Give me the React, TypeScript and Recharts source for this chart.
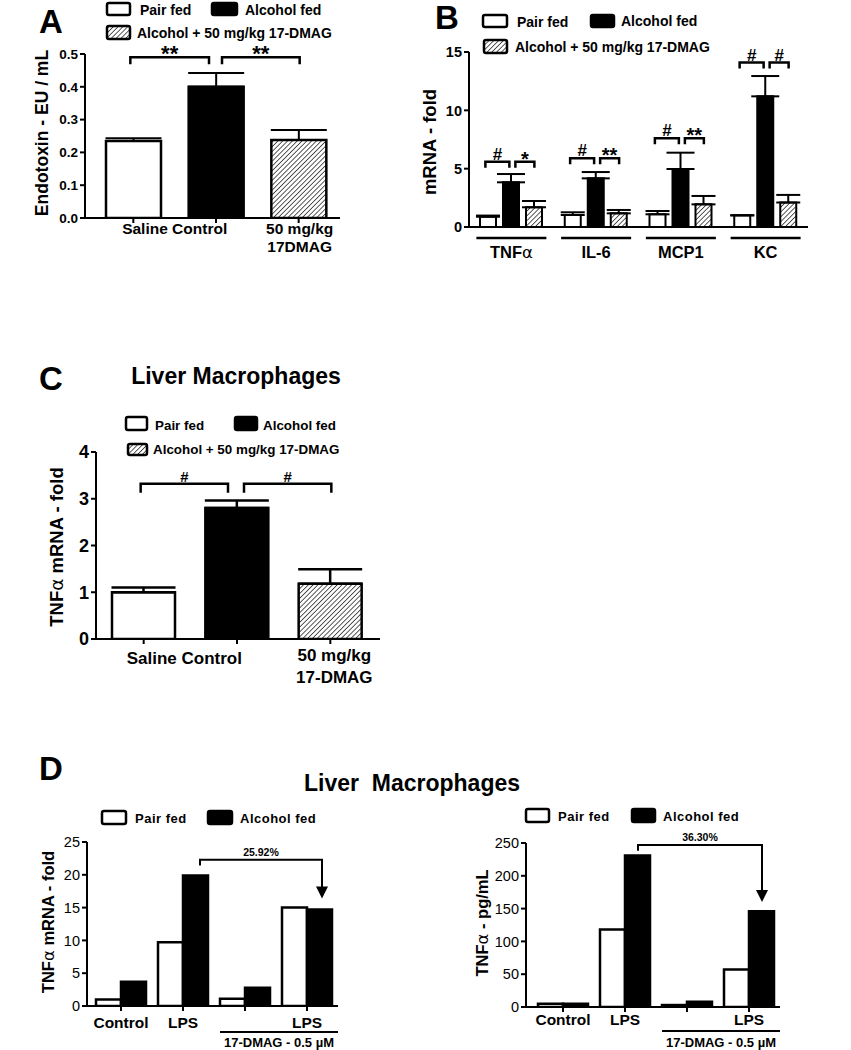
import React from 'react'
import { BarChart, Bar, Cell, XAxis, YAxis, ErrorBar } from 'recharts'

const FONT = '"Liberation Sans", Arial, Helvetica, sans-serif'

// ── Panel A: serum endotoxin ────────────────────────────────────────────────
const endoGroups = ['Pair fed', 'Alcohol fed', 'Alcohol + 17-DMAG']
const endotoxin = [0.235, 0.4, 0.238]
const endotoxinSem = [0.008, 0.042, 0.03]
const endoTicks = [0, 0.1, 0.2, 0.3, 0.4, 0.5]

// ── Panel B: liver cytokine mRNA ────────────────────────────────────────────
const cytokines = ['TNFα', 'IL-6', 'MCP1', 'KC']
const cytoPair = [0.88, 1.03, 1.09, 1.0]
const cytoPairSem = [0.1, 0.23, 0.28, 0]
const cytoAlcohol = [3.83, 4.17, 4.97, 11.2]
const cytoAlcoholSem = [0.71, 0.54, 1.4, 1.74]
const cytoDmag = [1.69, 1.17, 1.94, 2.1]
const cytoDmagSem = [0.54, 0.29, 0.72, 0.65]
const cytoTicks = [0, 5, 10, 15]
const cytoMarks = [['#', '*'], ['#', '**'], ['#', '**'], ['#', '#']]
const cytoBracketAt = [5.6, 5.9, 7.6, 14.1]

// ── Panel C: macrophage TNFα mRNA ───────────────────────────────────────────
const macroGroups = ['Pair fed', 'Alcohol fed', 'Alcohol + 17-DMAG']
const macroTnf = [1.0, 2.8, 1.18]
const macroTnfSem = [0.1, 0.16, 0.31]
const macroTicks = [0, 1, 2, 3, 4]

// ── Panel D: macrophages ex vivo ────────────────────────────────────────────
const stimGroups = ['Control', 'LPS', 'DMAG', 'DMAG + LPS']
const stimLabels = ['Control', 'LPS', '', 'LPS']
const mrnaPair = [1.0, 9.7, 1.1, 15.0]
const mrnaAlcohol = [3.7, 19.9, 2.8, 14.7]
const mrnaTicks = [0, 5, 10, 15, 20, 25]
const protPair = [5, 118, 3, 57]
const protAlcohol = [5, 231, 8, 146]
const protTicks = [0, 50, 100, 150, 200, 250]

const FILLS = ['#fff', '#000', 'url(#hatch)']

type Geo = { x: number; y: number; w: number; h: number; l: number; r: number; t: number; b: number; padL: number; padR: number; max: number; n: number }

const geoA: Geo = { x: 0, y: 0, w: 360, h: 270, l: 85, r: 340, t: 54, b: 218, padL: 7, padR: 0, max: 0.5, n: 3 }
const geoB: Geo = { x: 420, y: 0, w: 420, h: 270, l: 469, r: 808, t: 52, b: 227, padL: 0, padR: 0, max: 15, n: 4 }
const geoC: Geo = { x: 0, y: 330, w: 400, h: 360, l: 96, r: 380, t: 452, b: 639, padL: 1, padR: 3, max: 4, n: 3 }
const geoDL: Geo = { x: 0, y: 790, w: 360, h: 260, l: 87, r: 338, t: 842, b: 1006, padL: 3, padR: 0, max: 25, n: 4 }
const geoDR: Geo = { x: 420, y: 790, w: 420, h: 260, l: 526, r: 780, t: 843, b: 1007, padL: 6, padR: 0, max: 250, n: 4 }

const band = (g: Geo) => (g.r - g.padR - g.l - g.padL) / g.n
const cx = (g: Geo, i: number) => g.l + g.padL + band(g) * (i + 0.5)
const cy = (g: Geo, v: number) => g.b - (v / g.max) * (g.b - g.t)

const txt = (size: number, weight = 700) => ({ fontFamily: FONT, fontSize: size, fontWeight: weight, fill: '#000' })

const rowsA = endoGroups.map((name, i) => ({ name, value: endotoxin[i], err: [0, endotoxinSem[i]] }))
const rowsB = cytokines.map((name, i) => ({
  name,
  pair: cytoPair[i], pairErr: [0, cytoPairSem[i]],
  alcohol: cytoAlcohol[i], alcoholErr: [0, cytoAlcoholSem[i]],
  dmag: cytoDmag[i], dmagErr: [0, cytoDmagSem[i]],
}))
const rowsC = macroGroups.map((name, i) => ({ name, value: macroTnf[i], err: [0, macroTnfSem[i]] }))
const rowsDL = stimGroups.map((name, i) => ({ name, pair: mrnaPair[i], alcohol: mrnaAlcohol[i] }))
const rowsDR = stimGroups.map((name, i) => ({ name, pair: protPair[i], alcohol: protAlcohol[i] }))

const yTick = (size: number, weight: number, fmt?: (v: number) => string) => (p: any) => (
  <text x={p.x} y={p.y} dy="0.36em" textAnchor="end" {...txt(size, weight)}>
    {fmt ? fmt(p.payload.value) : p.payload.value}
  </text>
)

function Frame({ g, data, ticks, yTickEl, xTick, xTickLine = true, barSize, barGap = 0, children }: any) {
  return (
    <div style={{ position: 'absolute', left: g.x, top: g.y }}>
      <BarChart
        width={g.w} height={g.h} data={data} barSize={barSize} barGap={barGap}
        margin={{ top: g.t - g.y, right: g.x + g.w - g.r, bottom: 0, left: 0 }}
      >
        <XAxis
          dataKey="name" height={g.y + g.h - g.b} padding={{ left: g.padL, right: g.padR }} interval={0}
          axisLine={{ stroke: '#000', strokeWidth: 2 }}
          tickLine={xTickLine ? { stroke: '#000', strokeWidth: 2 } : false} tickSize={5} tick={xTick}
        />
        <YAxis
          width={g.l - g.x} domain={[0, g.max]} ticks={ticks} interval={0} allowDataOverflow
          axisLine={{ stroke: '#000', strokeWidth: 2 }} tickLine={{ stroke: '#000', strokeWidth: 2 }} tickSize={5}
          tick={yTickEl}
        />
        {children}
      </BarChart>
    </div>
  )
}

// x tick renderers
const tickA = (p: any) => {
  const yb = geoA.b - geoA.y
  if (p.index === 0) return <text x={p.x + band(geoA) / 2} y={yb + 16} textAnchor="middle" {...txt(15.5)}>Saline Control</text>
  if (p.index === 2) return (
    <text textAnchor="middle" {...txt(15.5)}>
      <tspan x={p.x + 1} y={yb + 16}>50 mg/kg</tspan>
      <tspan x={p.x + 1} y={yb + 34}>17DMAG</tspan>
    </text>
  )
  return <g />
}

const tickB = (p: any) => {
  const yb = geoB.b - geoB.y
  const name = cytokines[p.index]
  return (
    <g>
      <line x1={p.x - 35} x2={p.x + 35} y1={yb + 11} y2={yb + 11} stroke="#000" strokeWidth={2.5} />
      <text x={p.x} y={yb + 31} textAnchor="middle" {...txt(16.5)}>
        {name.endsWith('α') ? (
          <>
            {name.slice(0, -1)}
            <tspan fontWeight={400} fontFamily="DejaVu Sans">α</tspan>
          </>
        ) : name}
      </text>
    </g>
  )
}

const tickC = (p: any) => {
  const yb = geoC.b - geoC.y
  if (p.index === 0) return <text x={p.x + band(geoC) / 2 - 6} y={yb + 25} textAnchor="middle" {...txt(17)}>Saline Control</text>
  if (p.index === 2) return (
    <text textAnchor="middle" {...txt(17)}>
      <tspan x={p.x + 4} y={yb + 22}>50 mg/kg</tspan>
      <tspan x={p.x + 4} y={yb + 44}>17-DMAG</tspan>
    </text>
  )
  return <g />
}

const tickD = (g: Geo, lab: number, line: number, sub: number) => (p: any) => {
  const yb = g.b - g.y
  const bw = band(g)
  return (
    <g>
      <text x={p.x} y={yb + lab} textAnchor="middle" {...txt(15.5)}>{stimLabels[p.index]}</text>
      {p.index === 3 && (
        <>
          <line x1={p.x - 1.5 * bw + 6} x2={p.x + bw / 2} y1={yb + line} y2={yb + line} stroke="#000" strokeWidth={2} />
          <text x={p.x - bw / 2 + 3} y={yb + sub} textAnchor="middle" {...txt(13)}>17-DMAG - 0.5 µM</text>
        </>
      )}
    </g>
  )
}

// overlay helpers
function Bracket({ x1, x2, y, drop, mark, size, markDy = -2 }: any) {
  return (
    <g>
      <path d={`M${x1},${y + drop}V${y}H${x2}V${y + drop}`} fill="none" stroke="#000" strokeWidth={2.5} />
      <text x={(x1 + x2) / 2} y={y + markDy} textAnchor="middle" {...txt(size)}>{mark}</text>
    </g>
  )
}

function Key({ x, y, w, h, fill, label, tx, ty, size, ls = 0 }: any) {
  return (
    <g>
      <rect x={x} y={y} width={w} height={h} rx={2} fill={fill} stroke="#000" strokeWidth={2.5} />
      <text x={tx} y={ty} letterSpacing={ls} {...txt(size)}>{label}</text>
    </g>
  )
}

function YLabel({ x, y, size, children }: any) {
  return (
    <text transform={`translate(${x},${y}) rotate(-90)`} textAnchor="middle" {...txt(size)}>{children}</text>
  )
}

const alpha = <tspan fontWeight={400} fontFamily="DejaVu Sans">α</tspan>

function Arrow({ x1, x2, yTop, yStart, yTip, label, labelY }: any) {
  return (
    <g>
      <path d={`M${x1},${yStart}V${yTop}H${x2}V${yTip - 10}`} fill="none" stroke="#000" strokeWidth={2} />
      <polygon points={`${x2 - 6},${yTip - 12} ${x2 + 6},${yTip - 12} ${x2},${yTip}`} fill="#000" />
      <text x={(x1 + x2) / 2} y={labelY} textAnchor="middle" {...txt(10.5)}>{label}</text>
    </g>
  )
}

function Overlay() {
  const a0 = cx(geoA, 0), a1 = cx(geoA, 1), a2 = cx(geoA, 2)
  const c0 = cx(geoC, 0), c1 = cx(geoC, 1), c2 = cx(geoC, 2)
  const yA = cy(geoA, 0.49)
  const yC = cy(geoC, 3.32)
  return (
    <svg width={851} height={1050} style={{ position: 'absolute', left: 0, top: 0, pointerEvents: 'none', zIndex: 2 }}>
      {/* panel letters and titles */}
      <text x={39} y={33} {...txt(33)}>A</text>
      <text x={435} y={29} {...txt(33)}>B</text>
      <text x={39} y={390} {...txt(33)}>C</text>
      <text x={39} y={780} {...txt(33)}>D</text>
      <text x={236} y={384} textAnchor="middle" {...txt(23)}>Liver Macrophages</text>
      <text x={412} y={791} textAnchor="middle" {...txt(23)}>Liver{'\u00a0 '}Macrophages</text>

      {/* legends */}
      <Key x={107} y={3} w={23} h={12} fill="#fff" label="Pair fed" tx={140} ty={15} size={14} />
      <Key x={212} y={3} w={25} h={12} fill="#000" label="Alcohol fed" tx={245} ty={15} size={14} />
      <Key x={107} y={26} w={23} h={13} fill="url(#hatch)" label="Alcohol + 50 mg/kg 17-DMAG" tx={137} ty={38} size={14} />

      <Key x={483} y={15} w={24} h={12} fill="#fff" label="Pair fed" tx={517} ty={27} size={14} />
      <Key x={591} y={15} w={23} h={12} fill="#000" label="Alcohol fed" tx={621} ty={26} size={14} />
      <Key x={484} y={40} w={23} h={13} fill="url(#hatch)" label="Alcohol + 50 mg/kg 17-DMAG" tx={515} ty={52} size={14} />

      <Key x={126} y={417} w={21} h={13} fill="#fff" label="Pair fed" tx={155} ty={430} size={13.4} />
      <Key x={235} y={417} w={22} h={13} fill="#000" label="Alcohol fed" tx={263} ty={430} size={13.4} />
      <Key x={128} y={444} w={19} h={11} fill="url(#hatch)" label="Alcohol + 50 mg/kg 17-DMAG" tx={153} ty={454} size={13.4} />

      <Key x={102} y={811} w={24} h={13} fill="#fff" label="Pair fed" tx={135} ty={823} size={13} ls={0.5} />
      <Key x={208} y={811} w={24} h={13} fill="#000" label="Alcohol fed" tx={240} ty={823} size={13} ls={0.5} />
      <Key x={526} y={809} w={23} h={13} fill="#fff" label="Pair fed" tx={558} ty={821} size={13} ls={0.5} />
      <Key x={632} y={809} w={23} h={13} fill="#000" label="Alcohol fed" tx={663} ty={821} size={13} ls={0.5} />

      {/* axis titles */}
      <YLabel x={48} y={133} size={17.5}>Endotoxin - EU / mL</YLabel>
      <YLabel x={436} y={142} size={18.5}>mRNA - fold</YLabel>
      <YLabel x={63} y={547} size={18.5}>TNF{alpha} mRNA - fold</YLabel>
      <YLabel x={54} y={922} size={16.5}>TNF{alpha} mRNA - fold</YLabel>
      <YLabel x={488} y={923} size={16.5}>TNF{alpha} - pg/mL</YLabel>

      {/* significance brackets */}
      <Bracket x1={a0 - 3} x2={a1 - 7} y={yA} drop={7} mark="**" size={22} markDy={4} />
      <Bracket x1={a1 + 6} x2={a2 + 1} y={yA} drop={7} mark="**" size={22} markDy={4} />
      {cytokines.map((_, i) => {
        const c = cx(geoB, i)
        const y = cy(geoB, cytoBracketAt[i])
        const [m1, m2] = cytoMarks[i]
        return (
          <g key={i}>
            <Bracket x1={c - 26} x2={c - 2} y={y} drop={6} mark={m1} size={17} markDy={m1 === '#' ? -2 : 4} />
            <Bracket x1={c + 4} x2={c + 23} y={y} drop={6} mark={m2} size={m2 === '#' ? 17 : 20} markDy={m2 === '#' ? -2 : 4} />
          </g>
        )
      })}
      <Bracket x1={c0 - 3} x2={c1 - 9} y={yC} drop={9} mark="#" size={15} markDy={-2} />
      <Bracket x1={c1 + 7} x2={c2 + 1} y={yC} drop={9} mark="#" size={15} markDy={-2} />

      {/* percentage arrows */}
      <Arrow
        x1={cx(geoDL, 1) + 17} x2={cx(geoDL, 3) + 15}
        yTop={cy(geoDL, 22.3)} yStart={cy(geoDL, 21.4)} yTip={cy(geoDL, 16.4)}
        label="25.92%" labelY={856}
      />
      <Arrow
        x1={cx(geoDR, 1) + 13} x2={cx(geoDR, 3) + 13}
        yTop={cy(geoDR, 247)} yStart={cy(geoDR, 238)} yTip={cy(geoDR, 160)}
        label="36.30%" labelY={841}
      />
    </svg>
  )
}

export default function App() {
  const barStroke = { stroke: '#000', strokeWidth: 2.5 }
  return (
    <div style={{ position: 'absolute', left: 0, top: 0, width: 851, height: 1050, background: '#fff', overflow: 'hidden' }}>
      <svg width={0} height={0} style={{ position: 'absolute' }}>
        <defs>
          <pattern id="hatch" width={3.4} height={3.4} patternUnits="userSpaceOnUse" patternTransform="rotate(45)">
            <rect width={3.4} height={3.4} fill="#fff" />
            <line x1={0} y1={0} x2={0} y2={3.4} stroke="#000" strokeWidth={1.3} />
          </pattern>
        </defs>
      </svg>

      <Frame g={geoA} data={rowsA} ticks={endoTicks} yTickEl={yTick(13.5, 700, (v) => v.toFixed(1))} xTick={tickA} barSize={55}>
        <Bar dataKey="value" {...barStroke} isAnimationActive={false}>
          {rowsA.map((_, i) => <Cell key={i} fill={FILLS[i]} />)}
          <ErrorBar dataKey="err" width={28} stroke="#000" strokeWidth={2} isAnimationActive={false} />
        </Bar>
      </Frame>

      <Frame g={geoB} data={rowsB} ticks={cytoTicks} yTickEl={yTick(14.5, 700)} xTick={tickB} xTickLine={false} barSize={16} barGap={7}>
        <Bar dataKey="pair" fill="#fff" stroke="#000" strokeWidth={2} isAnimationActive={false}>
          <ErrorBar dataKey="pairErr" width={12} stroke="#000" strokeWidth={2} isAnimationActive={false} />
        </Bar>
        <Bar dataKey="alcohol" fill="#000" stroke="#000" strokeWidth={2} isAnimationActive={false}>
          <ErrorBar dataKey="alcoholErr" width={14} stroke="#000" strokeWidth={2} isAnimationActive={false} />
        </Bar>
        <Bar dataKey="dmag" fill="url(#hatch)" stroke="#000" strokeWidth={2} isAnimationActive={false}>
          <ErrorBar dataKey="dmagErr" width={12} stroke="#000" strokeWidth={2} isAnimationActive={false} />
        </Bar>
      </Frame>

      <Frame g={geoC} data={rowsC} ticks={macroTicks} yTickEl={yTick(18, 700)} xTick={tickC} barSize={63}>
        <Bar dataKey="value" {...barStroke} isAnimationActive={false}>
          {rowsC.map((_, i) => <Cell key={i} fill={FILLS[i]} />)}
          <ErrorBar dataKey="err" width={32} stroke="#000" strokeWidth={2.5} isAnimationActive={false} />
        </Bar>
      </Frame>

      <Frame g={geoDL} data={rowsDL} ticks={mrnaTicks} yTickEl={yTick(14.5, 400)} xTick={tickD(geoDL, 22, 26, 41)} barSize={25}>
        <Bar dataKey="pair" fill="#fff" {...barStroke} isAnimationActive={false} />
        <Bar dataKey="alcohol" fill="#000" {...barStroke} isAnimationActive={false} />
      </Frame>

      <Frame g={geoDR} data={rowsDR} ticks={protTicks} yTickEl={yTick(14.5, 400)} xTick={tickD(geoDR, 18, 24, 40)} barSize={25}>
        <Bar dataKey="pair" fill="#fff" {...barStroke} isAnimationActive={false} />
        <Bar dataKey="alcohol" fill="#000" {...barStroke} isAnimationActive={false} />
      </Frame>

      <Overlay />
    </div>
  )
}
